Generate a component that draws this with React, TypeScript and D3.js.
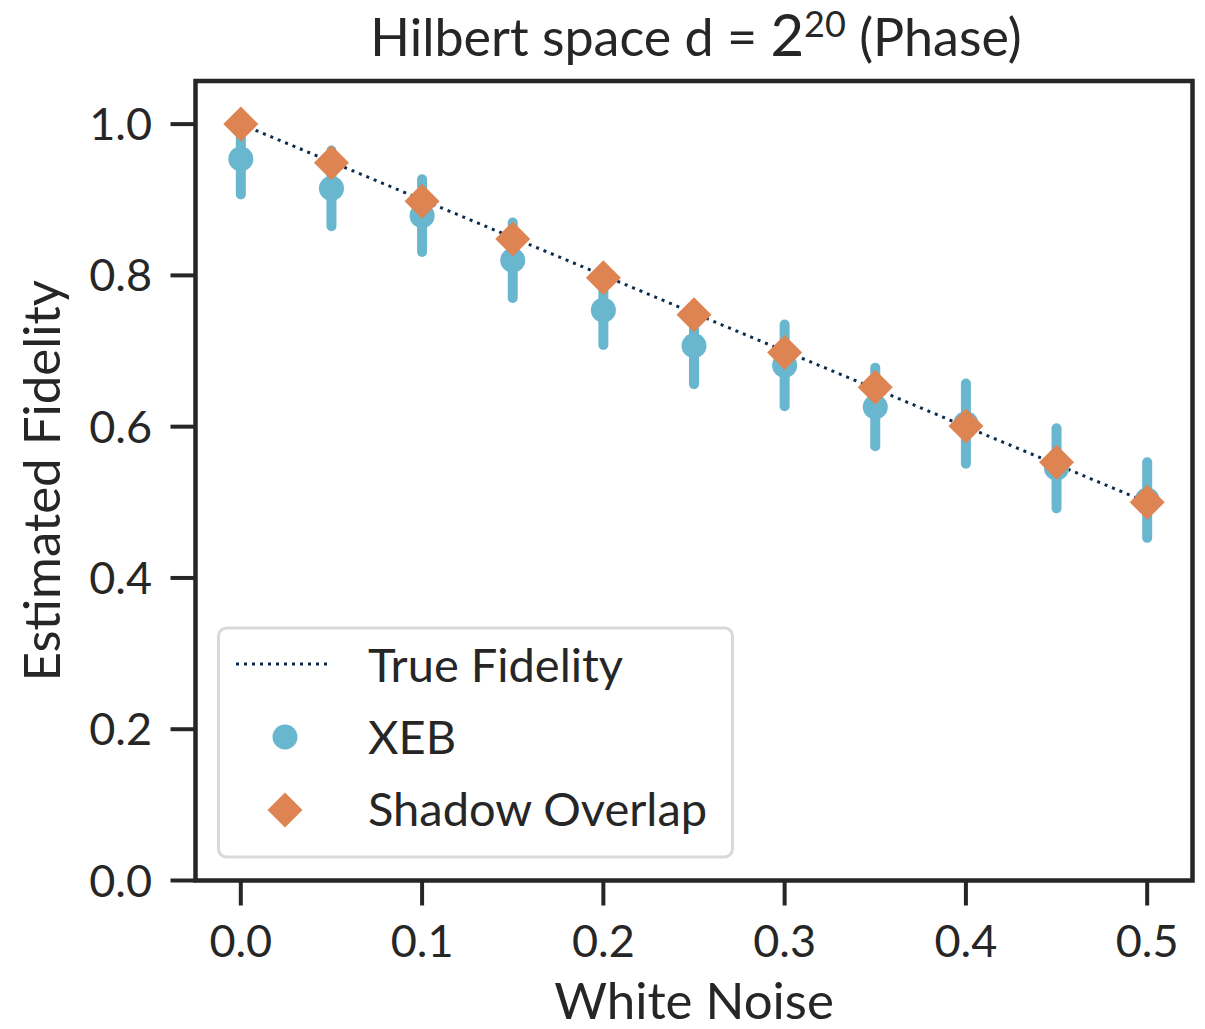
import React from "react";
import * as d3 from "d3";

const noise = [0.0, 0.05, 0.1, 0.15, 0.2, 0.25, 0.3, 0.35, 0.4, 0.45, 0.5];
const trueFidelity = [1.0, 0.95, 0.9, 0.85, 0.8, 0.75, 0.7, 0.65, 0.6, 0.55, 0.5];
const xebMean = [0.954, 0.915, 0.879, 0.82, 0.754, 0.707, 0.681, 0.626, 0.604, 0.545, 0.503];
const xebErr = [0.047, 0.05, 0.048, 0.05, 0.046, 0.051, 0.054, 0.052, 0.053, 0.053, 0.05];
const shadow = [1.0, 0.949, 0.898, 0.848, 0.797, 0.748, 0.698, 0.652, 0.601, 0.553, 0.5];
const xTicks = [0.0, 0.1, 0.2, 0.3, 0.4, 0.5];
const yTicks = [0.0, 0.2, 0.4, 0.6, 0.8, 1.0];
const legendLabels = ["True Fidelity", "XEB", "Shadow Overlap"];

const W = 1205;
const H = 1029;
const L = 195.5, R = 1192.5, T = 81, B = 880.5;
const FONT = "Lato, 'Open Sans', sans-serif";
const TEXT = "#262626";
const BLUE = "#69b6cf";
const ORANGE = "#dd8452";
const NAVY = "#0c2c4e";

export default function App() {
  const x = d3.scaleLinear().domain([-0.025, 0.525]).range([L, R]);
  const y = d3.scaleLinear().domain([0, 1.057]).range([B, T]);
  const line = d3
    .line<number>()
    .x((_, i) => x(noise[i]))
    .y((d) => y(d));
  const diamond = (cx: number, cy: number, r: number) =>
    `M${cx},${cy - r}L${cx + r},${cy}L${cx},${cy + r}L${cx - r},${cy}Z`;

  return (
    <div style={{ position: "absolute", left: 0, top: 0 }}>
      <svg width={W} height={H} style={{ display: "block", background: "#fff" }}>
        <rect x={0} y={0} width={W} height={H} fill="#fff" />
        {/* true fidelity */}
        <path
          d={line(trueFidelity) || ""}
          fill="none"
          stroke={NAVY}
          strokeWidth={3}
          strokeDasharray="3,5"
        />
        {/* XEB error bars */}
        {noise.map((n, i) => (
          <line
            key={"e" + i}
            x1={x(n)}
            x2={x(n)}
            y1={y(xebMean[i] + xebErr[i])}
            y2={y(xebMean[i] - xebErr[i])}
            stroke={BLUE}
            strokeWidth={10}
            strokeLinecap="round"
          />
        ))}
        {noise.map((n, i) => (
          <circle key={"c" + i} cx={x(n)} cy={y(xebMean[i])} r={12.5} fill={BLUE} />
        ))}
        {noise.map((n, i) => (
          <path key={"d" + i} d={diamond(x(n), y(shadow[i]), 17.5)} fill={ORANGE} />
        ))}
        {/* spines */}
        <rect x={L} y={T} width={R - L} height={B - T} fill="none" stroke={TEXT} strokeWidth={4.5} />
        {/* x ticks */}
        {xTicks.map((t) => (
          <g key={"xt" + t}>
            <line x1={x(t)} x2={x(t)} y1={B} y2={B + 25} stroke={TEXT} strokeWidth={4} />
            <text
              x={x(t)}
              y={957}
              textAnchor="middle"
              fontFamily={FONT}
              fontSize={45}
              fill={TEXT}
            >
              {t.toFixed(1)}
            </text>
          </g>
        ))}
        {/* y ticks */}
        {yTicks.map((t) => (
          <g key={"yt" + t}>
            <line x1={L - 25} x2={L} y1={y(t)} y2={y(t)} stroke={TEXT} strokeWidth={4} />
            <text
              x={152}
              y={y(t) + 16}
              textAnchor="end"
              fontFamily={FONT}
              fontSize={45}
              fill={TEXT}
            >
              {t.toFixed(1)}
            </text>
          </g>
        ))}
        {/* axis labels */}
        <text x={(L + R) / 2} y={1019} textAnchor="middle" fontFamily={FONT} fontSize={51} fill={TEXT}>
          White Noise
        </text>
        <text
          transform={`translate(60,${(T + B) / 2}) rotate(-90)`}
          textAnchor="middle"
          fontFamily={FONT}
          fontSize={51}
          fill={TEXT}
        >
          Estimated Fidelity
        </text>
        {/* title */}
        <text x={(L + R) / 2 + 2} y={56} textAnchor="middle" fontFamily={FONT} fontSize={52} fill={TEXT}>
          Hilbert space d = <tspan fontSize={58}>2</tspan>
          <tspan fontSize={36} dy={-19}>20</tspan>
          <tspan dy={19}> (Phase)</tspan>
        </text>
        {/* legend */}
        <rect
          x={218.5}
          y={628}
          width={514}
          height={229}
          rx={8}
          fill="#fff"
          fillOpacity={0.8}
          stroke="#d9d9d9"
          strokeWidth={3}
        />
        <line x1={236} x2={331} y1={664} y2={664} stroke={NAVY} strokeWidth={3} strokeDasharray="3,5" />
        <circle cx={285} cy={737} r={12.5} fill={BLUE} />
        <path d={diamond(285, 810, 17.5)} fill={ORANGE} />
        {legendLabels.map((lab, i) => (
          <text key={lab} x={368} y={682 + i * 72} fontFamily={FONT} fontSize={47} fill={TEXT}>
            {lab}
          </text>
        ))}
      </svg>
    </div>
  );
}
